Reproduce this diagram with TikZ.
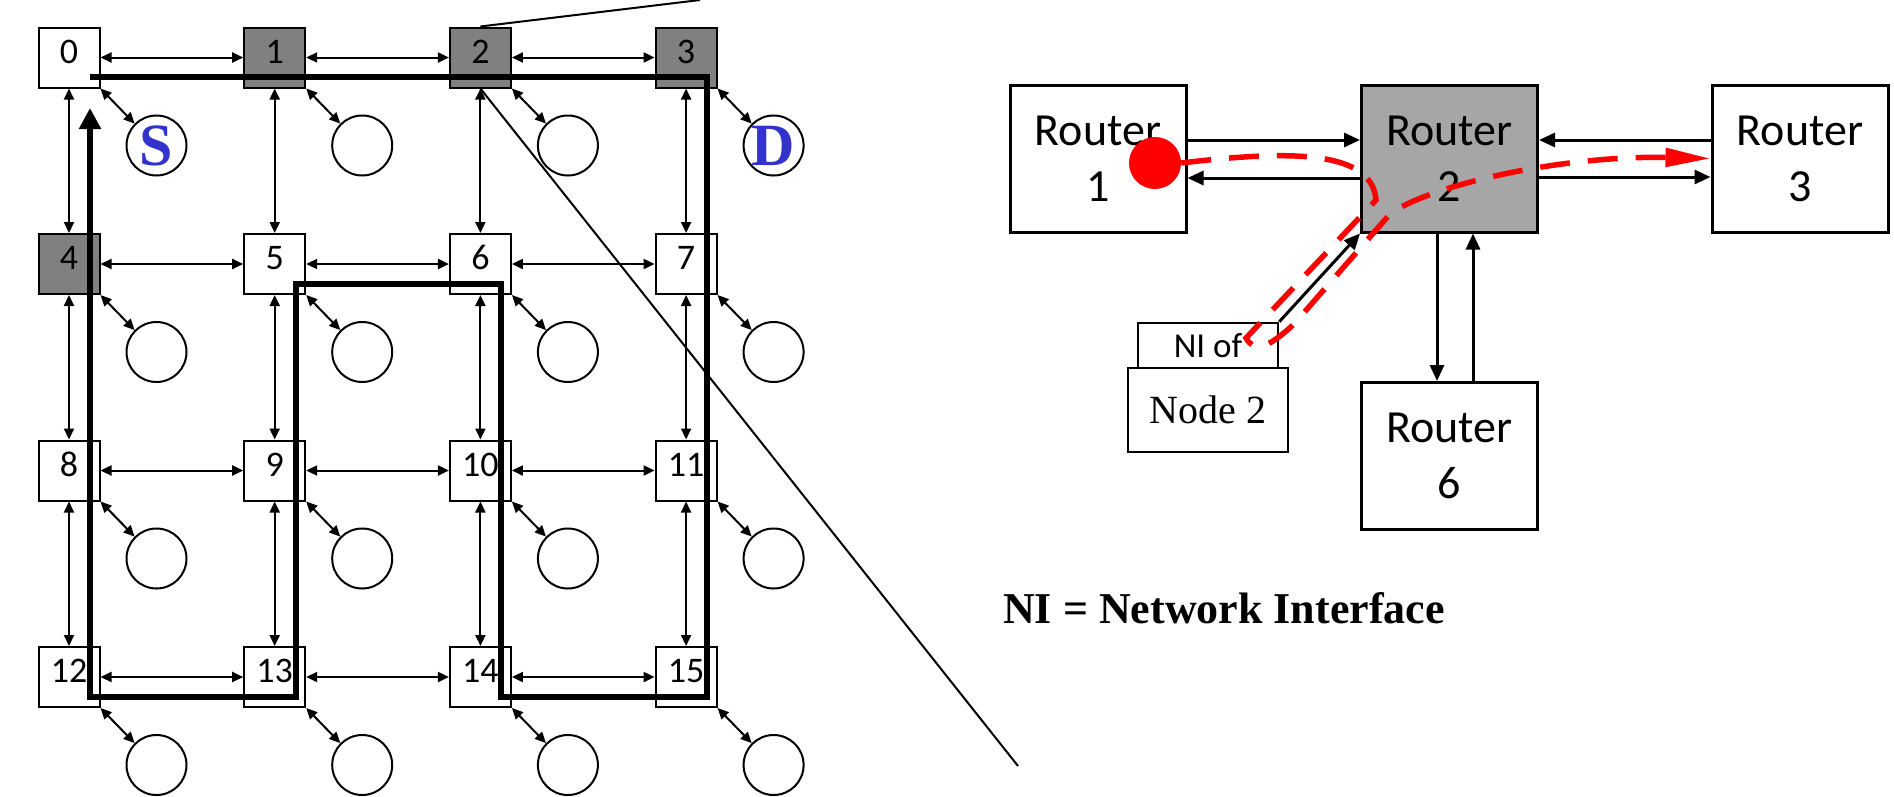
\documentclass[tikz,border=0pt]{standalone}
\usepackage{fontspec}
\setmainfont{Liberation Serif}
\newfontfamily\calibfont{Carlito}
\usetikzlibrary{arrows.meta}
\definecolor{meshgray}{RGB}{128,128,128}
\definecolor{routergray}{RGB}{166,166,166}
\definecolor{labelblue}{RGB}{51,51,204}
\tikzset{
  rbox/.style={draw,line width=2pt,minimum width=61pt,minimum height=60pt,inner sep=0pt,
    font=\calibfont\fontsize{36}{36}\selectfont,text height=24pt,text depth=13pt},
  core/.style={draw,circle,line width=2pt,minimum size=60pt,inner sep=0pt,text=labelblue,
    font=\bfseries\fontsize{60}{60}\selectfont},
  link/.style={line width=2pt,{Triangle[length=11pt,width=10pt]}-{Triangle[length=11pt,width=10pt]}},
  route/.style={line width=6pt,line join=miter,-{Triangle[length=21pt,width=21pt]}},
  zoomline/.style={line width=2pt},
  router/.style={draw,line width=3pt,minimum width=176pt,minimum height=147pt,align=center,
    font=\calibfont\fontsize{46}{56}\selectfont},
  nibox/.style={draw,line width=2.5pt,fill=white,minimum width=140pt,minimum height=45pt,inner sep=0pt,
    font=\calibfont\fontsize{35}{35}\selectfont},
  nodebox/.style={draw,line width=2.5pt,fill=white,minimum width=160pt,minimum height=84pt,inner sep=0pt,
    font=\fontsize{40}{40}\selectfont},
  bus/.style={line width=3pt,-{Triangle[length=16pt,width=14pt]}},
  dot/.style={circle,fill=red,minimum size=52pt,inner sep=0pt},
  redpath/.style={draw=red,line width=5.5pt,dash pattern=on 30pt off 18pt,
    -{Triangle[length=45pt,width=18pt]}}
}
\begin{document}
\begin{tikzpicture}[x=1pt,y=-1pt]
  \useasboundingbox (0,0) rectangle (1894,796);
  \foreach \i in {0,...,15}{
    \pgfmathtruncatemacro\col{mod(\i,4)}
    \pgfmathtruncatemacro\row{div(\i,4)}
    \def\boxfill{white}
    \ifnum\i>0 \ifnum\i<5 \def\boxfill{meshgray}\fi\fi
    \def\lbl{}
    \ifnum\i=0 \def\lbl{S}\fi
    \ifnum\i=3 \def\lbl{D}\fi
    \node[rbox,fill=\boxfill] (r\i) at ({69+205.7*\col},{57.5+206.5*\row}) {\i};
    \node[core] (c\i) at ([shift={(87.5,88)}]r\i.center) {\lbl};
  }
  \foreach \i in {0,...,15}{
    \pgfmathtruncatemacro\col{mod(\i,4)}
    \pgfmathtruncatemacro\nxt{\i+1}
    \pgfmathtruncatemacro\blw{\i+4}
    \ifnum\col<3 \draw[link] (r\i) -- (r\nxt);\fi
    \ifnum\i<12 \draw[link] (r\i) -- (r\blw);\fi
    \draw[link] (r\i.south east) -- (c\i.north west);
  }
  \foreach \i in {0,3,5,6,12,13,14,15} \coordinate (p\i) at ([shift={(21,19.5)}]r\i.center);
  \draw[route] (p0) -- (p3) -- (p15) -- (p14) -- (p6) -- (p5) -- (p13) -- (p12) -- ([shift={(0,31)}]p0);
  \coordinate (zt) at (700,0);
  \coordinate (zb) at (1018,766);
  \draw[zoomline] (r2.north) -- (zt);
  \draw[zoomline] (r2.south) -- (zb);

  \node[router] (rt1) at (1098,158.5) {Router\\1};
  \node[router,fill=routergray] (rt2) at (1449.5,158.5) {Router\\2};
  \node[router] (rt3) at (1800,158.5) {Router\\3};
  \node[router] (rt6) at (1449.5,456) {Router\\6};
  \node[nibox] (ni) at (1208,345.5) {NI of};
  \node[nodebox] (nd2) at (1208,410) {Node 2};
  \node[font=\bfseries\fontsize{44}{44}\selectfont] (legend) at (1224,608) {NI = Network Interface};
  \draw[bus] ([yshift=18.5]rt1.east) -- ([yshift=18.5]rt2.west);
  \draw[bus] ([yshift=-19.5]rt2.west) -- ([yshift=-19.5]rt1.east);
  \draw[bus] ([yshift=18.5]rt3.west) -- ([yshift=18.5]rt2.east);
  \draw[bus] ([yshift=-18.5]rt2.east) -- ([yshift=-18.5]rt3.west);
  \draw[bus] ([xshift=-12.5]rt2.south) -- ([xshift=-12.5]rt6.north);
  \draw[bus] ([xshift=23.5]rt6.north) -- ([xshift=23.5]rt2.south);
  \draw[bus] (ni.north east) -- (rt2.south west);
  \node[dot] (pkt) at (1155,163) {};
  \draw[redpath] (pkt.east) .. controls (1290,150) and (1372,150) .. (1376,200) -- (1246,338)
    .. controls (1254,352) and (1266,350) .. (1294,324) -- (1390,214)
    .. controls (1428,186) and (1560,155) .. (rt3.west);
\end{tikzpicture}
\end{document}
